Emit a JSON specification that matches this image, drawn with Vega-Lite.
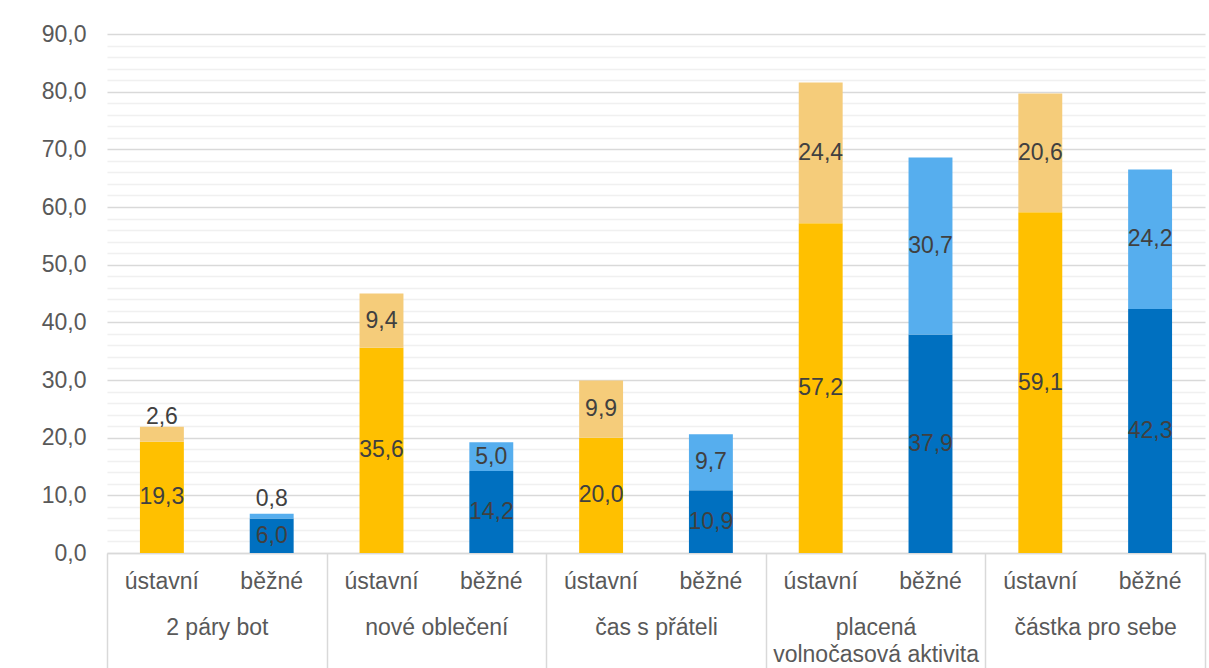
{
  "$schema": "https://vega.github.io/schema/vega-lite/v6.json",
  "width": 1098,
  "height": 519,
  "autosize": {"type": "none"},
  "padding": {"left": 107, "top": 34, "right": 4, "bottom": 115},
  "config": {
    "view": {"stroke": null},
    "font": "Liberation Sans",
    "locale": {"number": {"decimal": ",", "thousands": " ", "grouping": [3], "currency": ["", " Kč"]}},
    "axisY": {
      "title": null,
      "format": ".1f",
      "labelOverlap": false,
      "ticks": false,
      "domain": false,
      "labelFontSize": 23,
      "labelColor": "#595959",
      "labelPadding": 21,
      "labelFont": "Liberation Sans",
      "gridWidth": 1.5
    }
  },
  "data": {
    "values": [
      {"kategorie": "2 páry bot", "typ": "ústavní", "cast": 1, "hodnota": 19.3},
      {"kategorie": "2 páry bot", "typ": "ústavní", "cast": 2, "hodnota": 2.6},
      {"kategorie": "2 páry bot", "typ": "běžné", "cast": 1, "hodnota": 6.0},
      {"kategorie": "2 páry bot", "typ": "běžné", "cast": 2, "hodnota": 0.8},
      {"kategorie": "nové oblečení", "typ": "ústavní", "cast": 1, "hodnota": 35.6},
      {"kategorie": "nové oblečení", "typ": "ústavní", "cast": 2, "hodnota": 9.4},
      {"kategorie": "nové oblečení", "typ": "běžné", "cast": 1, "hodnota": 14.2},
      {"kategorie": "nové oblečení", "typ": "běžné", "cast": 2, "hodnota": 5.0},
      {"kategorie": "čas s přáteli", "typ": "ústavní", "cast": 1, "hodnota": 20.0},
      {"kategorie": "čas s přáteli", "typ": "ústavní", "cast": 2, "hodnota": 9.9},
      {"kategorie": "čas s přáteli", "typ": "běžné", "cast": 1, "hodnota": 10.9},
      {"kategorie": "čas s přáteli", "typ": "běžné", "cast": 2, "hodnota": 9.7},
      {"kategorie": "placená volnočasová aktivita", "typ": "ústavní", "cast": 1, "hodnota": 57.2},
      {"kategorie": "placená volnočasová aktivita", "typ": "ústavní", "cast": 2, "hodnota": 24.4},
      {"kategorie": "placená volnočasová aktivita", "typ": "běžné", "cast": 1, "hodnota": 37.9},
      {"kategorie": "placená volnočasová aktivita", "typ": "běžné", "cast": 2, "hodnota": 30.7},
      {"kategorie": "částka pro sebe", "typ": "ústavní", "cast": 1, "hodnota": 59.1},
      {"kategorie": "částka pro sebe", "typ": "ústavní", "cast": 2, "hodnota": 20.6},
      {"kategorie": "částka pro sebe", "typ": "běžné", "cast": 1, "hodnota": 42.3},
      {"kategorie": "částka pro sebe", "typ": "běžné", "cast": 2, "hodnota": 24.2}
    ]
  },
  "transform": [
    {"calculate": "datum.kategorie + '|' + datum.typ", "as": "klic"},
    {"calculate": "datum.typ + '-' + datum.cast", "as": "rada"}
  ],
  "layer": [
    {
      "layer": [
        {
          "mark": {"type": "bar"},
          "encoding": {
            "x": {
              "field": "klic", "type": "nominal", "sort": null,
              "scale": {"paddingInner": 0.6, "paddingOuter": 0.3},
              "axis": {
                "title": null,
                "labelExpr": "split(datum.label, '|')[1]",
                "labelAngle": 0,
                "ticks": false,
                "domainColor": "#d9d9d9",
                "domainWidth": 1.5,
                "labelFontSize": 23,
                "labelColor": "#595959",
                "labelPadding": 17,
                "labelFont": "Liberation Sans"
              }
            },
            "y": {
              "field": "hodnota", "type": "quantitative", "stack": "zero",
              "scale": {"domain": [0, 90], "nice": false},
              "axis": {
                "values": [0,2,4,6,8,10,12,14,16,18,20,22,24,26,28,30,32,34,36,38,40,42,44,46,48,50,52,54,56,58,60,62,64,66,68,70,72,74,76,78,80,82,84,86,88,90],
                "labelExpr": "datum.value % 10 === 0 ? datum.label : ''",
                "gridColor": {"condition": {"test": "datum.value % 10 === 0", "value": "#d9d9d9"}, "value": "#f0f0f0"}
              }
            },
            "color": {
              "field": "rada", "type": "nominal",
              "scale": {"domain": ["ústavní-1", "ústavní-2", "běžné-1", "běžné-2"], "range": ["#FFC000", "#F5CC7A", "#0070C0", "#56AEEE"]},
              "legend": null
            },
            "order": {"field": "cast", "type": "quantitative"}
          }
        },
        {
          "transform": [
            {"stack": "hodnota", "groupby": ["klic"], "sort": [{"field": "cast", "order": "ascending"}], "as": ["y0", "y1"]},
            {"calculate": "(datum.y0 + datum.y1) / 2", "as": "stred"},
            {"filter": "datum.hodnota >= 3"}
          ],
          "mark": {"type": "text", "fontSize": 23, "color": "#404040", "font": "Liberation Sans"},
          "encoding": {
            "x": {"field": "klic", "type": "nominal", "sort": null},
            "y": {
              "field": "stred", "type": "quantitative", "stack": null,
              "scale": {"domain": [0, 90], "nice": false},
              "axis": {
                "values": [0,2,4,6,8,10,12,14,16,18,20,22,24,26,28,30,32,34,36,38,40,42,44,46,48,50,52,54,56,58,60,62,64,66,68,70,72,74,76,78,80,82,84,86,88,90],
                "labelExpr": "datum.value % 10 === 0 ? datum.label : ''",
                "gridColor": {"condition": {"test": "datum.value % 10 === 0", "value": "#d9d9d9"}, "value": "#f0f0f0"}
              }
            },
            "text": {"field": "hodnota", "type": "quantitative", "format": ".1f"}
          }
        },
        {
          "transform": [
            {"stack": "hodnota", "groupby": ["klic"], "sort": [{"field": "cast", "order": "ascending"}], "as": ["y0", "y1"]},
            {"calculate": "(datum.y0 + datum.y1) / 2", "as": "stred"},
            {"filter": "datum.hodnota < 3"}
          ],
          "mark": {"type": "text", "fontSize": 23, "color": "#404040", "font": "Liberation Sans", "dy": -17},
          "encoding": {
            "x": {"field": "klic", "type": "nominal", "sort": null},
            "y": {
              "field": "stred", "type": "quantitative", "stack": null,
              "scale": {"domain": [0, 90], "nice": false},
              "axis": {
                "values": [0,2,4,6,8,10,12,14,16,18,20,22,24,26,28,30,32,34,36,38,40,42,44,46,48,50,52,54,56,58,60,62,64,66,68,70,72,74,76,78,80,82,84,86,88,90],
                "labelExpr": "datum.value % 10 === 0 ? datum.label : ''",
                "gridColor": {"condition": {"test": "datum.value % 10 === 0", "value": "#d9d9d9"}, "value": "#f0f0f0"}
              }
            },
            "text": {"field": "hodnota", "type": "quantitative", "format": ".1f"}
          }
        }
      ]
    },
    {
      "mark": {"type": "point", "opacity": 0},
      "encoding": {
        "x": {
          "field": "kategorie", "type": "nominal", "sort": null,
          "scale": {"paddingInner": 0, "paddingOuter": 0},
          "axis": {
            "title": null,
            "orient": "bottom",
            "tickBand": "extent",
            "tickSize": 120,
            "tickColor": "#d9d9d9",
            "tickWidth": 1.5,
            "domain": false,
            "labelAngle": 0,
            "labelFontSize": 23,
            "labelColor": "#595959",
            "labelFont": "Liberation Sans",
            "labelPadding": -57,
            "labelLineHeight": 27,
            "labelLimit": 400,
            "labelBaseline": "top",
            "labelExpr": "datum.label == 'placená volnočasová aktivita' ? ['placená', 'volnočasová aktivita'] : datum.label"
          }
        }
      }
    }
  ],
  "resolve": {"scale": {"x": "independent"}, "axis": {"x": "independent"}}
}
